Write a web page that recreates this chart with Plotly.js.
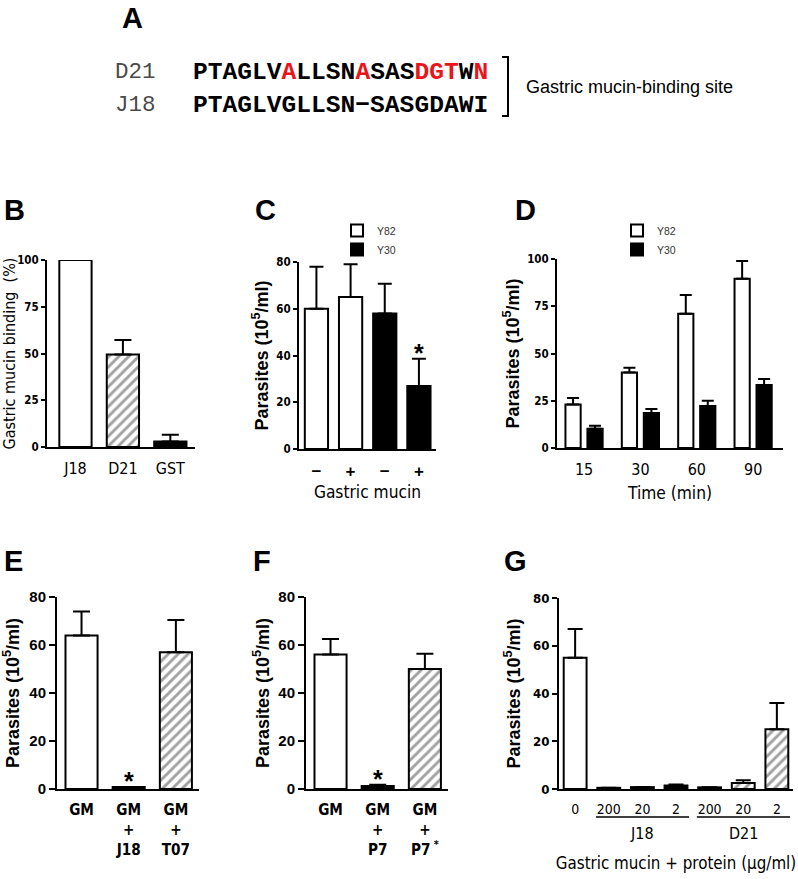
<!DOCTYPE html>
<html><head><meta charset="utf-8">
<script src="https://cdn.plot.ly/plotly-3.0.1.min.js"></script>
<style>body{margin:0;background:#fff}#chart{width:798px;height:879px}</style>
</head><body><div id="chart"></div>
<script>
// ---------- DATA ----------
// Panel A
const seqNames = ["D21", "J18"];
const seqD21 = "PTAGLVALLSNASASDGTWN";
const seqJ18 = "PTAGLVGLLSN\u2212SASGDAWI";
const seqD21Red = [6, 11, 15, 16, 17, 19];
const siteLabel = "Gastric mucin-binding site";

// Panel B
const bCats = ["J18", "D21", "GST"];
const bVals = [100, 49.5, 3];
const bErr = [null, 7.7, 3.5];
const bFill = ["open", "hatch", "solid"];

// Panel C
const cMucin = ["\u2212", "+"];
const cY82 = [60, 65];
const cY82Err = [18, 14];
const cY30 = [58, 27];
const cY30Err = [12.7, 11.6];
const cStar = [false, true];

// Panel D
const dTimes = ["15", "30", "60", "90"];
const dY82 = [23, 40, 71, 89.5];
const dY82Err = [3.5, 2.4, 10, 9.4];
const dY30 = [10.2, 18.5, 22.2, 33.3];
const dY30Err = [1.6, 2.2, 2.8, 3.2];

// Panel E
const eCats = ["GM", "GM<br>+<br>J18", "GM<br>+<br>T07"];
const eVals = [64, 0.8, 57];
const eErr = [10, null, 13.4];
const eFill = ["open", "solid", "hatch"];
const eStar = [false, true, false];

// Panel F
const fCats = ["GM", "GM<br>+<br>P7", "GM<br>+<br>P7<sup> *</sup>"];
const fVals = [56, 1.2, 50];
const fErr = [6.5, 0.6, 6.4];
const fFill = ["open", "solid", "hatch"];
const fStar = [false, true, false];

// Panel G
const gProtein = ["none", "J18", "J18", "J18", "D21", "D21", "D21"];
const gDose = ["0", "200", "20", "2", "200", "20", "2"];
const gVals = [55, 0.5, 0.8, 1.5, 0.7, 2.5, 25];
const gErr = [12, null, null, 0.4, null, 1.2, 11];
const gFill = ["open", "solid", "solid", "solid", "solid", "hatch", "hatch"];

// ---------- FONT DETECTION ----------
function hasFont(f) {
  const c = document.createElement("canvas").getContext("2d");
  const s = "abcdefghijklmnopqrstuvwxyzABCDEFGHIJKLMNOPQRSTUVWXYZ0123456789";
  let diff = false;
  ["monospace", "serif", "sans-serif"].forEach(base => {
    c.font = "40px " + base; const w1 = c.measureText(s).width;
    c.font = "40px '" + f + "', " + base; const w2 = c.measureText(s).width;
    if (Math.abs(w1 - w2) > 0.5) diff = true;
  });
  return diff;
}
const narrowCands = ["Liberation Sans Narrow", "Arial Narrow", "Nimbus Sans Narrow", "DejaVu Sans Condensed", "Roboto Condensed", "Open Sans Condensed"];
let NARROW = null, NS = 1;
for (const f of narrowCands) { if (hasFont(f)) { NARROW = "'" + f + "'"; break; } }
if (!NARROW) { NARROW = "Liberation Sans, Arial, sans-serif"; NS = 0.84; }
else if (NARROW.indexOf("DejaVu") >= 0) { NS = 0.82; }
const monoCands = ["Courier New", "Nimbus Mono PS", "FreeMono", "Liberation Mono", "DejaVu Sans Mono"];
let MONO = "monospace";
for (const f of monoCands) { if (hasFont(f)) { MONO = "'" + f + "', monospace"; break; } }
const SANS = "Liberation Sans, Arial, sans-serif";
const nf = (size, weight) => ({ family: NARROW, size: size * NS, color: "black", weight: weight || "normal" });

// ---------- HELPERS ----------
const W = 798, H = 879;
const px = x => x / W;
const py = y => 1 - y / H;
const dX = (a, b) => [a / W, b / W];
const dY = (top, bottom) => [1 - bottom / H, 1 - top / H];
const fillColor = f => (f === "solid" ? "black" : "white");
const patShape = f => (f === "hatch" ? "/" : "");

function barMarker(fills) {
  return {
    color: fills.map(fillColor),
    pattern: { shape: fills.map(patShape), fillmode: "overlay", fgcolor: "black", size: 7, solidity: 0.42 },
    line: { color: "black", width: 2 }
  };
}
function errY(arr, w) {
  return { type: "data", symmetric: false, array: arr, arrayminus: arr.map(() => 0), color: "black", thickness: 2, width: w, visible: true };
}

function yAxis(dom, rng, vals, tfont, ticklen, title, tfont2, standoff, anchor) {
  return {
    domain: dom, range: rng, tickvals: vals, anchor: anchor,
    showline: true, linewidth: 2, linecolor: "black", ticks: "outside", ticklen: ticklen, tickwidth: 2, tickcolor: "black",
    showgrid: false, zeroline: false, fixedrange: true, tickfont: tfont,
    title: { text: title, font: tfont2, standoff: standoff }
  };
}
function xAxis(dom, rng, tfont, anchor, extra) {
  return Object.assign({
    domain: dom, range: rng, type: "category", anchor: anchor,
    showline: true, linewidth: 2, linecolor: "black", ticks: "", showgrid: false, zeroline: false, fixedrange: true,
    tickfont: tfont
  }, extra || {});
}

// ---------- TRACES ----------
const traces = [];
traces.push({ type: "bar", x: bCats, y: bVals, xaxis: "x", yaxis: "y", marker: barMarker(bFill), error_y: errY(bErr, 8.5), showlegend: false });
const cY82X = cMucin.map(m => "Y82 " + m);
const cY30X = cMucin.map(m => "Y30 " + m);
traces.push({ type: "bar", name: "Y82", x: cY82X, y: cY82, xaxis: "x2", yaxis: "y2", marker: barMarker(["open", "open"]), error_y: errY(cY82Err, 7), legend: "legend" });
traces.push({ type: "bar", name: "Y30", x: cY30X, y: cY30, xaxis: "x2", yaxis: "y2", marker: barMarker(["solid", "solid"]), error_y: errY(cY30Err, 7), legend: "legend" });
traces.push({ type: "bar", name: "Y82", x: dTimes, y: dY82, xaxis: "x3", yaxis: "y3", width: 0.27, offset: -0.33, marker: barMarker(dTimes.map(() => "open")), error_y: errY(dY82Err, 6), legend: "legend2" });
traces.push({ type: "bar", name: "Y30", x: dTimes, y: dY30, xaxis: "x3", yaxis: "y3", width: 0.27, offset: 0.06, marker: barMarker(dTimes.map(() => "solid")), error_y: errY(dY30Err, 6), legend: "legend2" });
traces.push({ type: "bar", x: eCats, y: eVals, xaxis: "x4", yaxis: "y4", marker: barMarker(eFill), error_y: errY(eErr, 8.5), showlegend: false });
traces.push({ type: "bar", x: fCats, y: fVals, xaxis: "x5", yaxis: "y5", marker: barMarker(fFill), error_y: errY(fErr, 8.5), showlegend: false });
const gCats = gProtein.map((p, i) => p + " " + gDose[i]);
traces.push({ type: "bar", x: gCats, y: gVals, xaxis: "x6", yaxis: "y6", marker: barMarker(gFill), error_y: errY(gErr, 7.5), showlegend: false });

// ---------- LAYOUT ----------
const smallBold = nf(14, "bold");
const efBold = { family: SANS, size: 15, color: "black", weight: "bold" };
const parTitle = "Parasites (10<sup>5</sup>/ml)";
const parFont = { family: SANS, size: 18, color: "black", weight: "bold" };

const layout = {
  width: W, height: H, autosize: false,
  margin: { l: 0, r: 0, t: 0, b: 0, pad: 0 },
  paper_bgcolor: "white", plot_bgcolor: "rgba(0,0,0,0)",
  barmode: "overlay", bargap: 0.32,
  font: { family: SANS, color: "black" },
  // B
  xaxis: xAxis(dX(47, 195), [-0.6, 2.52], nf(19.5), "y", { ticklabelstandoff: 6 }),
  yaxis: yAxis(dY(260, 447), [0, 100], [0, 25, 50, 75, 100], smallBold, 4, "Gastric mucin binding\u00a0 (%)", nf(19.5), 7, "x"),
  // C
  xaxis2: xAxis(dX(299, 436), [-0.51, 3.5], { family: SANS, size: 17, color: "black", weight: "bold" }, "y2",
    { categoryorder: "array", categoryarray: cY82X.concat(cY30X), tickvals: cY82X.concat(cY30X), ticktext: cMucin.concat(cMucin), ticklabelstandoff: 6,
      title: { text: "Gastric mucin", font: nf(21), standoff: 6 } }),
  yaxis2: yAxis(dY(262, 449), [0, 80], [0, 20, 40, 60, 80], smallBold, 4, parTitle, parFont, 3, "x2"),
  // D
  xaxis3: xAxis(dX(557, 783), [-0.48, 3.53], nf(19.5), "y3",
    { ticklabelstandoff: 6, title: { text: "Time (min)", font: nf(21), standoff: 9 } }),
  yaxis3: yAxis(dY(259, 448), [0, 100], [0, 25, 50, 75, 100], smallBold, 4, parTitle, parFont, 3, "x3"),
  // E
  xaxis4: xAxis(dX(57, 199), [-0.52, 2.49], nf(18.5, "bold"), "y4", { ticklabelstandoff: 6 }),
  yaxis4: yAxis(dY(597, 789), [0, 80], [0, 20, 40, 60, 80], efBold, 6, parTitle, parFont, 6, "x4"),
  // F
  xaxis5: xAxis(dX(306, 448), [-0.52, 2.49], nf(18.5, "bold"), "y5", { ticklabelstandoff: 6 }),
  yaxis5: yAxis(dY(597, 789), [0, 80], [0, 20, 40, 60, 80], efBold, 6, parTitle, parFont, 4, "x5"),
  // G
  xaxis6: xAxis(dX(559, 793), [-0.48, 6.48], nf(17), "y6",
    { categoryorder: "array", categoryarray: gCats, tickvals: gCats, ticktext: gDose, ticklabelstandoff: 6,
      title: { text: "Gastric mucin + protein (\u03bcg/ml)", font: nf(20.5), standoff: 42 } }),
  yaxis6: yAxis(dY(598, 789), [0, 80], [0, 20, 40, 60, 80], nf(16, "bold"), 5, parTitle, parFont, 8, "x6"),
  legend: { x: px(337), y: py(216), xanchor: "left", yanchor: "top", bgcolor: "rgba(0,0,0,0)", borderwidth: 0,
    font: { family: SANS, size: 10.5, color: "#333" }, itemwidth: 30, tracegroupgap: 0 },
  legend2: { x: px(617), y: py(216), xanchor: "left", yanchor: "top", bgcolor: "rgba(0,0,0,0)", borderwidth: 0,
    font: { family: SANS, size: 10.5, color: "#333" }, itemwidth: 30, tracegroupgap: 0 },
  annotations: [],
  shapes: []
};

// Panel letters
const letters = [["A", 132, 18], ["B", 14, 210], ["C", 265, 210], ["D", 525, 210], ["E", 13, 561], ["F", 262, 561], ["G", 515, 561]];
letters.forEach(([t, x, y]) => layout.annotations.push({
  xref: "paper", yref: "paper", x: px(x), y: py(y), xanchor: "center", yanchor: "middle", showarrow: false,
  text: "<b>" + t + "</b>", font: { family: SANS, size: 29, color: "black" }
}));

// Panel A sequences
function colorSeq(seq, reds) {
  return seq.split("").map((c, i) => reds.includes(i) ? "<span style='color:#e8161b'>" + c + "</span>" : c).join("");
}
const seqs = [colorSeq(seqD21, seqD21Red), seqJ18];
const seqY = [72, 105];
seqNames.forEach((n, i) => {
  layout.annotations.push({ xref: "paper", yref: "paper", x: px(158), y: py(seqY[i]), xanchor: "right", yanchor: "middle", showarrow: false,
    text: n, font: { family: MONO, size: 22.5, color: "#4a4a4a" } });
  layout.annotations.push({ xref: "paper", yref: "paper", x: px(191), y: py(seqY[i]), xanchor: "left", yanchor: "middle", showarrow: false,
    text: "<b>" + seqs[i] + "</b>", font: { family: MONO, size: 24.6, color: "black" } });
});
layout.shapes.push({ type: "path", xref: "paper", yref: "paper",
  path: `M${px(502)},${py(57)} L${px(508)},${py(57)} L${px(508)},${py(116)} L${px(502)},${py(116)}`,
  line: { color: "black", width: 2 } });
layout.annotations.push({ xref: "paper", yref: "paper", x: px(524), y: py(87), xanchor: "left", yanchor: "middle", showarrow: false,
  text: siteLabel, font: { family: SANS, size: 18, color: "black" } });

// Stars
function addStars(flags, cats, vals, errs, xr, yr) {
  flags.forEach((f, i) => {
    if (!f) return;
    layout.annotations.push({ xref: xr, yref: yr, x: cats[i], y: vals[i] + (errs[i] || 0), xanchor: "center", yanchor: "bottom",
      yshift: -10, showarrow: false, text: "<b>*</b>", font: { family: SANS, size: 25, color: "black" } });
  });
}
addStars(cStar, cY30X, cY30, cY30Err, "x2", "y2");
addStars(eStar, eCats, eVals, eErr.map(() => 0), "x4", "y4");
addStars(fStar, fCats, fVals, fErr, "x5", "y5");

// Panel G group underlines and labels
["J18", "D21"].forEach(p => {
  const idx = gProtein.map((q, i) => q === p ? i : -1).filter(i => i >= 0);
  const a = Math.min(...idx), b = Math.max(...idx);
  layout.shapes.push({ type: "line", xref: "x6", yref: "paper", x0: a - 0.38, x1: b + 0.39, y0: py(817), y1: py(817),
    line: { color: "black", width: 1.5 } });
  layout.annotations.push({ xref: "x6", yref: "paper", x: (a + b) / 2, y: py(833), xanchor: "center", yanchor: "middle", showarrow: false,
    text: p, font: nf(19.5) });
});

Plotly.newPlot("chart", traces, layout, { staticPlot: true, displayModeBar: false });
</script>
</body></html>
